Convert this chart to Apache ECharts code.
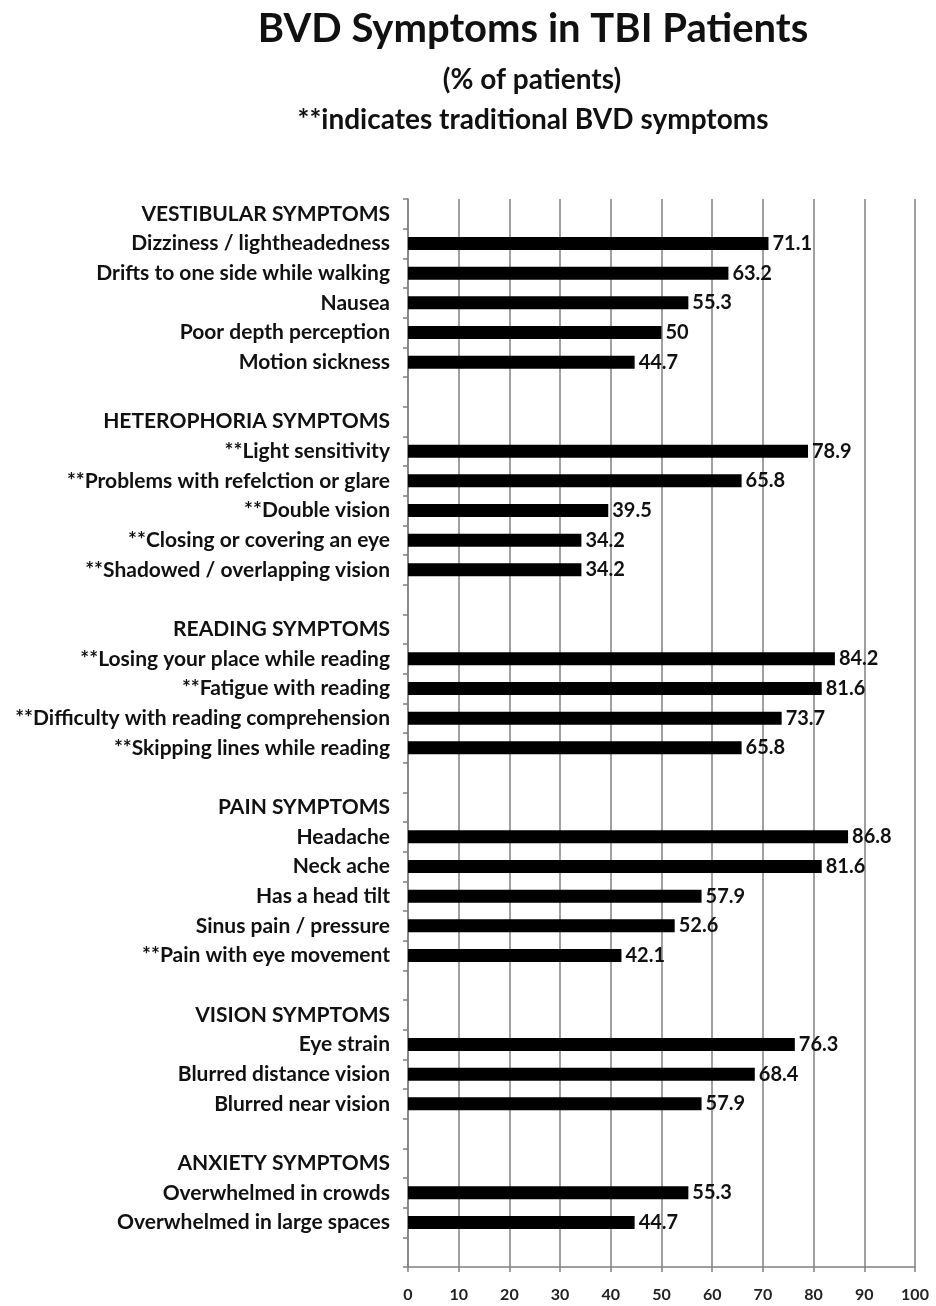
<!DOCTYPE html>
<html>
<head>
<meta charset="utf-8">
<script src="https://cdn.jsdelivr.net/npm/echarts@6/dist/echarts.min.js"></script>
<style>
html,body{margin:0;padding:0;background:#fff;}
#chart{width:936px;height:1306px;}
</style>
</head>
<body>
<div id="chart"></div>
<script>
// ---- data ----
const vestibularLabels = ["Dizziness / lightheadedness","Drifts to one side while walking","Nausea","Poor depth perception","Motion sickness"];
const vestibularValues = [71.1, 63.2, 55.3, 50, 44.7];
const heterophoriaLabels = ["**Light sensitivity","**Problems with refelction or glare","**Double vision","**Closing or covering an eye","**Shadowed / overlapping vision"];
const heterophoriaValues = [78.9, 65.8, 39.5, 34.2, 34.2];
const readingLabels = ["**Losing your place while reading","**Fatigue with reading","**Difficulty with reading comprehension","**Skipping lines while reading"];
const readingValues = [84.2, 81.6, 73.7, 65.8];
const painLabels = ["Headache","Neck ache","Has a head tilt","Sinus pain / pressure","**Pain with eye movement"];
const painValues = [86.8, 81.6, 57.9, 52.6, 42.1];
const visionLabels = ["Eye strain","Blurred distance vision","Blurred near vision"];
const visionValues = [76.3, 68.4, 57.9];
const anxietyLabels = ["Overwhelmed in crowds","Overwhelmed in large spaces"];
const anxietyValues = [55.3, 44.7];
const groupHeaders = ["VESTIBULAR SYMPTOMS","HETEROPHORIA SYMPTOMS","READING SYMPTOMS","PAIN SYMPTOMS","VISION SYMPTOMS","ANXIETY SYMPTOMS"];
const xTicks = [0,10,20,30,40,50,60,70,80,90,100];

// ---- build categories ----
const groups = [
  [vestibularLabels, vestibularValues],
  [heterophoriaLabels, heterophoriaValues],
  [readingLabels, readingValues],
  [painLabels, painValues],
  [visionLabels, visionValues],
  [anxietyLabels, anxietyValues]
];
const categories = [];
const values = [];
let blankCount = 0;
groups.forEach((g, i) => {
  categories.push(groupHeaders[i]); values.push(null);
  g[0].forEach((lab, j) => { categories.push(lab); values.push(g[1][j]); });
  blankCount++;
  categories.push(' '.repeat(blankCount)); values.push(null);
});

const FONT = 'Lato';
const chart = echarts.init(document.getElementById('chart'), null, {renderer: 'canvas'});
chart.setOption({
  backgroundColor: '#ffffff',
  animation: false,
  title: [
    {text: 'BVD Symptoms in TBI Patients', left: 528, top: 4, textAlign: 'center',
     textStyle: {fontFamily: FONT, fontWeight: 'bold', fontSize: 40, color: '#111'}},
    {text: '(% of patients)', left: 527, top: 61, textAlign: 'center',
     textStyle: {fontFamily: FONT, fontWeight: 'bold', fontSize: 28, color: '#111'}},
    {text: '**indicates traditional BVD symptoms', left: 528, top: 101, textAlign: 'center',
     textStyle: {fontFamily: FONT, fontWeight: 'bold', fontSize: 28, color: '#111'}}
  ],
  grid: {left: 408, right: 21, top: 199, bottom: 39, containLabel: false},
  xAxis: {
    type: 'value', min: 0, max: 100, interval: 10,
    axisLine: {show: true, lineStyle: {color: '#808080', width: 1.5}},
    axisTick: {show: true, length: 5, lineStyle: {color: '#808080', width: 1.5}},
    axisLabel: {fontFamily: FONT, fontWeight: 'bold', fontSize: 16, color: '#222', margin: 20,
      formatter: v => xTicks.includes(v) ? String(v) : ''},
    splitLine: {show: true, lineStyle: {color: '#808080', width: 1.5}}
  },
  yAxis: {
    type: 'category', inverse: true, data: categories,
    axisLine: {show: true, lineStyle: {color: '#808080', width: 1.5}},
    axisTick: {show: true, length: 5, alignWithLabel: false, lineStyle: {color: '#808080', width: 1.5}},
    axisLabel: {fontFamily: FONT, fontWeight: 'bold', fontSize: 21, color: '#111', margin: 18, interval: 0}
  },
  series: [{
    type: 'bar', data: values, barWidth: 13,
    itemStyle: {color: '#000'},
    label: {show: true, position: 'right', distance: 4, fontFamily: FONT, fontWeight: 'bold',
      fontSize: 20, color: '#111', formatter: p => p.value == null ? '' : String(p.value)}
  }]
});
</script>
</body>
</html>
